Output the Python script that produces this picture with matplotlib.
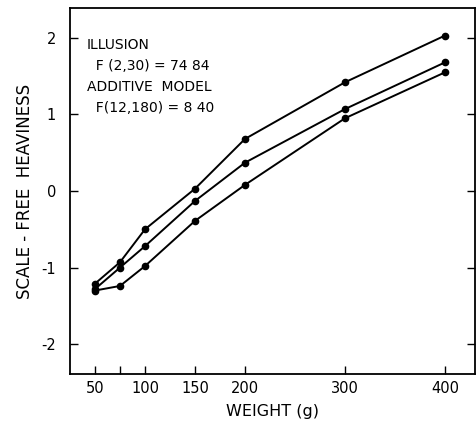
import numpy as np
import matplotlib.pyplot as plt

weight = [50, 75, 100, 150, 200, 300, 400]
top = [-1.21, -0.93, -0.50, 0.03, 0.68, 1.42, 2.03]
middle = [-1.28, -1.00, -0.72, -0.13, 0.37, 1.07, 1.68]
bottom = [-1.30, -1.24, -0.98, -0.39, 0.08, 0.95, 1.55]
x_ticklabels = ['50', '', '100', '150', '200', '300', '400']
y_ticks = [-2, -1, 0, 1, 2]
notes = ['ILLUSION', '  F (2,30) = 74 84', 'ADDITIVE  MODEL', '  F(12,180) = 8 40']

plt.rcParams['font.family'] = ['DejaVu Sans']

fig = plt.figure(figsize=(4.77, 4.26), dpi=100)
ax = fig.add_axes([70 / 477, 52 / 426, 405 / 477, 366 / 426])

for ys in (top, middle, bottom):
    ax.plot(weight, ys, color='black', lw=1.4, marker='o', ms=4.5)

ax.set_xlim(25, 430)
ax.set_ylim(-2.39, 2.39)
ax.set_xticks(weight)
ax.set_xticklabels(x_ticklabels)
ax.set_yticks(y_ticks)
ax.set_yticklabels([str(v) for v in y_ticks])
ax.tick_params(direction='in', length=6, width=1, labelsize=10.5,
               top=False, right=True)
ax.tick_params(axis='x', pad=5)
ax.tick_params(axis='y', pad=10)

for s in ax.spines.values():
    s.set_linewidth(1.3)

ax.set_xlabel('WEIGHT (g)', fontsize=11.5, labelpad=6)
ax.set_ylabel('SCALE - FREE  HEAVINESS', fontsize=12, labelpad=5)

note_y = [0.899, 0.842, 0.783, 0.727]
for line, y in zip(notes, note_y):
    ax.text(0.042, y, line, transform=ax.transAxes,
            fontsize=10, va='center', ha='left')

fig.savefig('out.png', dpi=100)
